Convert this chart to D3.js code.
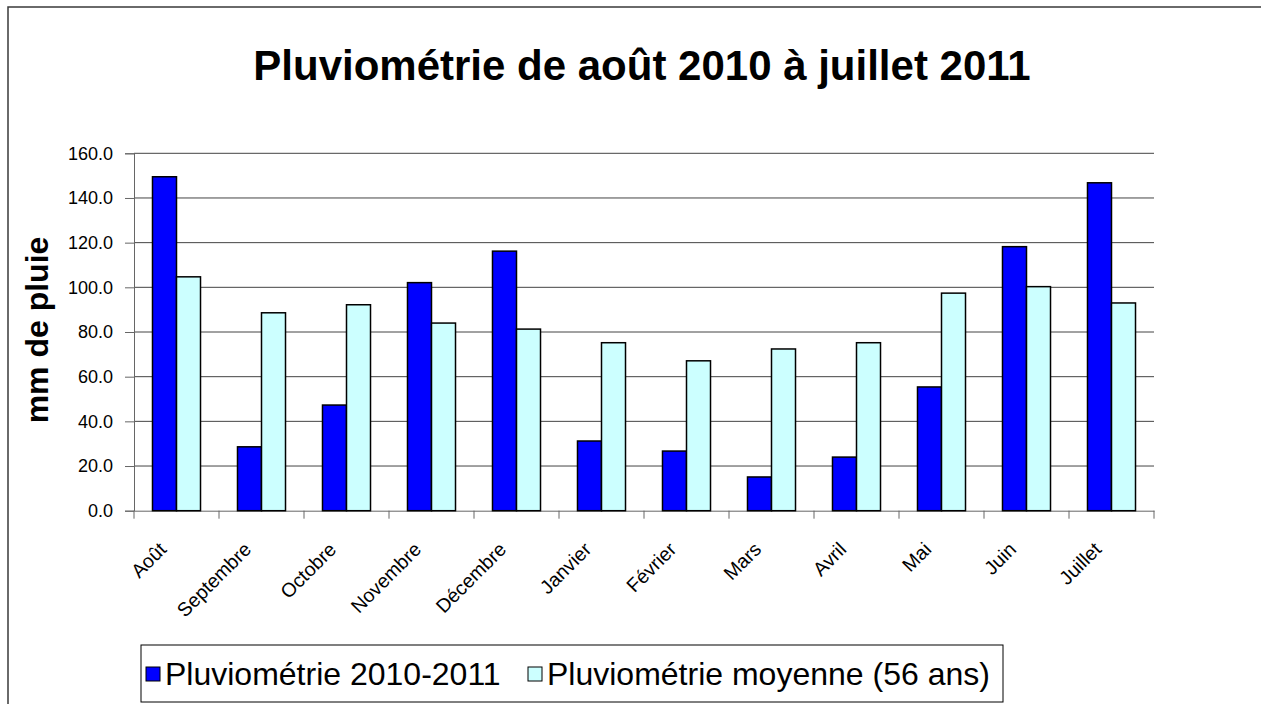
<!DOCTYPE html>
<html><head><meta charset="utf-8">
<script src="https://cdn.jsdelivr.net/npm/d3@7"></script>
<style>html,body{margin:0;padding:0;background:#fff;overflow:hidden}</style>
</head><body>
<svg id="c" width="1261" height="704"></svg>
<script>
const months = ["Août","Septembre","Octobre","Novembre","Décembre","Janvier","Février","Mars","Avril","Mai","Juin","Juillet"];
const rain2010 = [149.5,28.6,47.3,102.1,116.2,31.2,26.7,15.1,24.0,55.4,118.2,146.8];
const rainAvg = [104.7,88.6,92.2,84.0,81.3,75.2,67.1,72.4,75.2,97.4,100.3,93.0];
const seriesNames = ["Pluviométrie 2010-2011","Pluviométrie moyenne (56 ans)"];
const yTicks = [0,20,40,60,80,100,120,140,160];
const colors = ["#0000FF","#CCFFFF"];

const svg = d3.select("#c");
const F = "Arial, 'Liberation Sans', sans-serif";
svg.append("rect").attr("width",1261).attr("height",704).attr("fill","#fff");
svg.append("rect").attr("x",8).attr("y",7).attr("width",1300).attr("height",800)
  .attr("fill","none").attr("stroke","#3a3a3a").attr("stroke-width",1.5);

const L=134,R=1154,T=153.3,B=510.7;
const x = d3.scaleBand().domain(months).range([L,R]).padding(0);
const xs = d3.scaleBand().domain([0,1]).range([0,x.bandwidth()]).paddingInner(0).paddingOuter(0.77);
const y = d3.scaleLinear().domain([0,160]).range([B,T]);

// title
svg.append("text").attr("x",642).attr("y",80).attr("text-anchor","middle")
  .attr("font-family",F).attr("font-weight","bold").attr("font-size",42)
  .text("Pluviométrie de août 2010 à juillet 2011");

// gridlines
svg.append("g").selectAll("line").data(yTicks.filter(d=>d>0)).join("line")
  .attr("x1",L).attr("x2",R).attr("y1",d=>y(d)).attr("y2",d=>y(d))
  .attr("stroke","#444").attr("stroke-width",1);

// y axis
const ya = svg.append("g").attr("transform",`translate(${L},0)`)
  .call(d3.axisLeft(y).tickValues(yTicks).tickFormat(d3.format(".1f")).tickSize(9).tickPadding(12));
ya.select(".domain").attr("stroke","#666");
ya.selectAll(".tick line").attr("stroke","#666");
ya.selectAll("text").attr("font-family",F).attr("font-size",18).attr("fill","#000");

// x axis
const xa = svg.append("g").attr("transform",`translate(0,${B})`)
  .call(d3.axisBottom(x).tickSize(0).tickFormat(""));
xa.select(".domain").attr("stroke","#666");
svg.append("g").selectAll("line").data(d3.range(months.length+1)).join("line")
  .attr("x1",i=>L+i*x.step()).attr("x2",i=>L+i*x.step()).attr("y1",B).attr("y2",B+8)
  .attr("stroke","#666");

// bars
const vals=[rain2010,rainAvg];
vals.forEach((arr,s)=>{
  svg.append("g").selectAll("rect").data(arr).join("rect")
    .attr("x",(d,i)=>x(months[i])+xs(s)).attr("width",xs.bandwidth())
    .attr("y",d=>y(d)).attr("height",d=>B-y(d))
    .attr("fill",colors[s]).attr("stroke","#000").attr("stroke-width",1.5);
});

// x labels
svg.append("g").selectAll("text").data(months).join("text")
  .attr("transform",d=>`translate(${x(d)+x.bandwidth()/2-9},${B+40}) rotate(-45)`)
  .attr("text-anchor","end").attr("font-family",F).attr("font-size",19.5).text(d=>d);

// y label
svg.append("text").attr("transform",`translate(48,330) rotate(-90)`).attr("text-anchor","middle")
  .attr("font-family",F).attr("font-weight","bold").attr("font-size",32).text("mm de pluie");

// legend
svg.append("rect").attr("x",141).attr("y",645).attr("width",862).attr("height",57)
  .attr("fill","#fff").attr("stroke","#000").attr("stroke-width",1);
const lx=[146,528];
seriesNames.forEach((n,i)=>{
  svg.append("rect").attr("x",lx[i]).attr("y",667).attr("width",14).attr("height",14)
    .attr("fill",colors[i]).attr("stroke","#000").attr("stroke-width",1);
  svg.append("text").attr("x",lx[i]+19).attr("y",685).attr("font-family",F).attr("font-size",32).text(n);
});
</script></body></html>
